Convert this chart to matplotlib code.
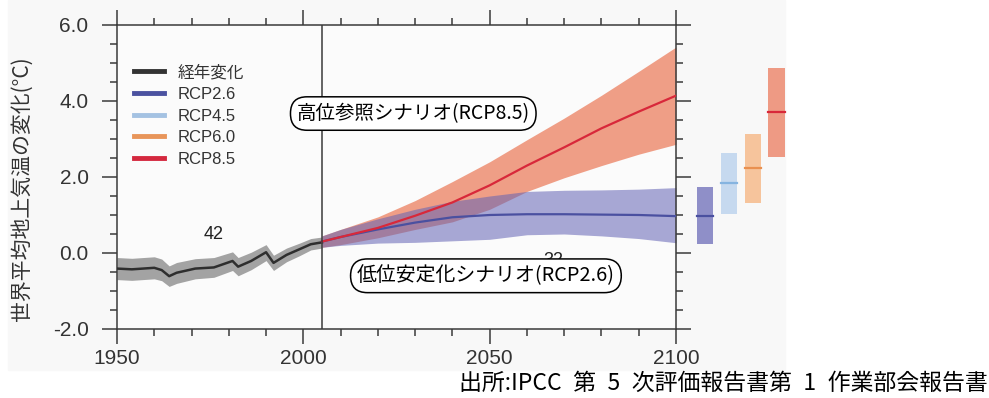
import matplotlib.pyplot as plt
from matplotlib.patches import Rectangle
from matplotlib.ticker import MultipleLocator
from matplotlib.lines import Line2D

plt.rcParams['font.family'] = ['Liberation Sans', 'Noto Sans CJK JP', 'DejaVu Sans']
JP = ['Noto Sans CJK JP', 'DejaVu Sans']

# Observed (historical) global mean temperature change
hist_years = [1950, 1954, 1960, 1962, 1964, 1966, 1971, 1976, 1981, 1982.5, 1986,
              1990, 1992, 1995.5, 1999, 2002, 2005]
hist_mean = [-0.41, -0.43, -0.39, -0.45, -0.61, -0.52, -0.41, -0.38, -0.21, -0.36, -0.21,
             0.02, -0.26, -0.05, 0.10, 0.23, 0.28]
hist_low = [-0.70, -0.72, -0.68, -0.73, -0.88, -0.80, -0.68, -0.64, -0.46, -0.60, -0.44,
            -0.20, -0.46, -0.23, -0.07, 0.08, 0.13]
hist_high = [-0.12, -0.14, -0.10, -0.16, -0.34, -0.25, -0.15, -0.12, 0.03, -0.12, 0.02,
             0.22, -0.06, 0.13, 0.26, 0.38, 0.42]

# Projections
proj_years = [2005, 2010, 2020, 2030, 2040, 2050, 2060, 2070, 2080, 2090, 2100]
rcp85_mean = [0.30, 0.42, 0.66, 0.98, 1.33, 1.78, 2.30, 2.78, 3.28, 3.72, 4.14]
rcp85_low = [0.15, 0.22, 0.40, 0.62, 0.82, 1.15, 1.62, 1.98, 2.30, 2.60, 2.86]
rcp85_high = [0.45, 0.62, 0.95, 1.38, 1.88, 2.40, 2.98, 3.55, 4.15, 4.78, 5.42]
rcp26_mean = [0.30, 0.42, 0.62, 0.80, 0.94, 1.00, 1.02, 1.02, 1.01, 1.00, 0.97]
rcp26_low = [0.15, 0.20, 0.26, 0.28, 0.32, 0.36, 0.48, 0.50, 0.45, 0.38, 0.27]
rcp26_high = [0.45, 0.62, 0.90, 1.15, 1.36, 1.50, 1.62, 1.65, 1.66, 1.68, 1.72]

# 2081-2100 mean and likely ranges
scen_names = ['RCP2.6', 'RCP4.5', 'RCP6.0', 'RCP8.5']
scen_mean = [0.98, 1.83, 2.24, 3.72]
scen_low = [0.24, 1.02, 1.31, 2.53]
scen_high = [1.73, 2.64, 3.14, 4.87]
scen_fill = ['#8f8fc8', '#c6d9ef', '#f6c49c', '#ee9a84']
scen_line = ['#4a50a0', '#86b4e0', '#e99050', '#d8283a']

legend_labels = ['経年変化'] + scen_names
legend_colors = ['#333333', '#4b52a0', '#a4c2e2', '#e8955a', '#d4283e']

xticks = [1950, 2000, 2050, 2100]
yticks = [-2, 0, 2, 4, 6]
ytick_labels = ['-2.0', '0.0', '2.0', '4.0', '6.0']

fig = plt.figure(figsize=(9.89, 3.98), dpi=100)
fig.patch.set_facecolor('white')
fig.patches.append(Rectangle((8 / 989, 28 / 398), 777 / 989, 370 / 398,
                             transform=fig.transFigure, color='#f8f8f8', zorder=-10))
ax = fig.add_axes([0.1183, 0.1734, 0.5652, 0.7638])
ax.set_facecolor('#fbfbfb')

edge = '#3a3a3a'

# historical
ax.fill_between(hist_years, hist_low, hist_high, color='#a3a3a3', lw=0, zorder=2)
ax.plot(hist_years, hist_mean, color='#2e2e2e', lw=1.8, zorder=3)

# projections
ax.fill_between(proj_years, rcp85_low, rcp85_high, color='#ef9e86', lw=0, zorder=2)
ax.fill_between(proj_years, rcp26_low, rcp26_high, color='#6262b4', alpha=0.55, lw=0, zorder=2.1)
ax.plot(proj_years, rcp26_mean, color='#4a50a0', lw=1.6, zorder=3)
ax.plot(proj_years, rcp85_mean, color='#d8283a', lw=1.6, zorder=3.1)

ax.axvline(2005, color=edge, lw=1.1, zorder=4)

# bars to the right of the plot
bar_x = [2107.8 + 6.4 * i for i in range(len(scen_names))]
for i in range(len(scen_names)):
    ax.bar(bar_x[i], scen_high[i] - scen_low[i], bottom=scen_low[i], width=4.4,
           color=scen_fill[i], lw=0, clip_on=False, zorder=2)
    ax.plot([bar_x[i] - 2.2, bar_x[i] + 2.2], [scen_mean[i], scen_mean[i]],
            color=scen_line[i], lw=1.6, clip_on=False, zorder=3)

# model counts
ax.text(1975.8, 0.48, '42', fontsize=13, color='#222222', ha='center', va='center')
ax.text(2067, -0.19, '32', fontsize=13, color='#222222', ha='center', va='center', zorder=2.5)

# scenario call-outs
box = dict(boxstyle='round,pad=0.32,rounding_size=0.85', fc='white', ec='black', lw=1.1)
ax.text(2029.5, 3.67, '高位参照シナリオ(RCP8.5)', family=JP, fontsize=14,
        ha='center', va='center', bbox=box, zorder=6)
ax.text(2049, -0.60, '低位安定化シナリオ(RCP2.6)', family=JP, fontsize=14.3,
        ha='center', va='center', bbox=box, zorder=6)

# legend
handles = [Line2D([], [], color=c, lw=3.5) for c in legend_colors]
leg = ax.legend(handles, legend_labels, loc='upper left', bbox_to_anchor=(0.03, 0.870),
                frameon=False, fontsize=12, handlelength=1.8, handletextpad=0.85,
                labelspacing=0.40, borderpad=0, borderaxespad=0)
for t in leg.get_texts():
    t.set_color('#333333')

# axes
ax.set_xlim(1950, 2100)
ax.set_ylim(-2, 6)
ax.set_xticks(xticks)
ax.set_xticklabels([str(x) for x in xticks])
ax.set_yticks(yticks)
ax.set_yticklabels(ytick_labels)
ax.xaxis.set_minor_locator(MultipleLocator(10))
ax.yaxis.set_minor_locator(MultipleLocator(0.5))
ax.tick_params(which='both', direction='out', top=True, right=True,
               labeltop=False, labelright=False, color=edge, width=1.1,
               labelsize=15, labelcolor='#333333')
ax.tick_params(axis='y', which='major', length=10.5, pad=10)
ax.tick_params(axis='x', which='major', length=10.5, pad=4)
ax.tick_params(which='minor', length=5)
for s in ax.spines.values():
    s.set_color(edge)
    s.set_linewidth(1.1)

fig.text(22 / 989, 0.526, '世界平均地上気温の変化(°C)', family=JP, fontsize=15,
         rotation=90, ha='center', va='center', color='#333333')
fig.text(988 / 989, 1 - 383 / 398, '出所:IPCC\u2002第\u20025\u2002次評価報告書第\u20021\u2002作業部会報告書',
         family=JP, fontsize=16.5, ha='right', va='center', color='black')

fig.savefig('out.png', dpi=100)
